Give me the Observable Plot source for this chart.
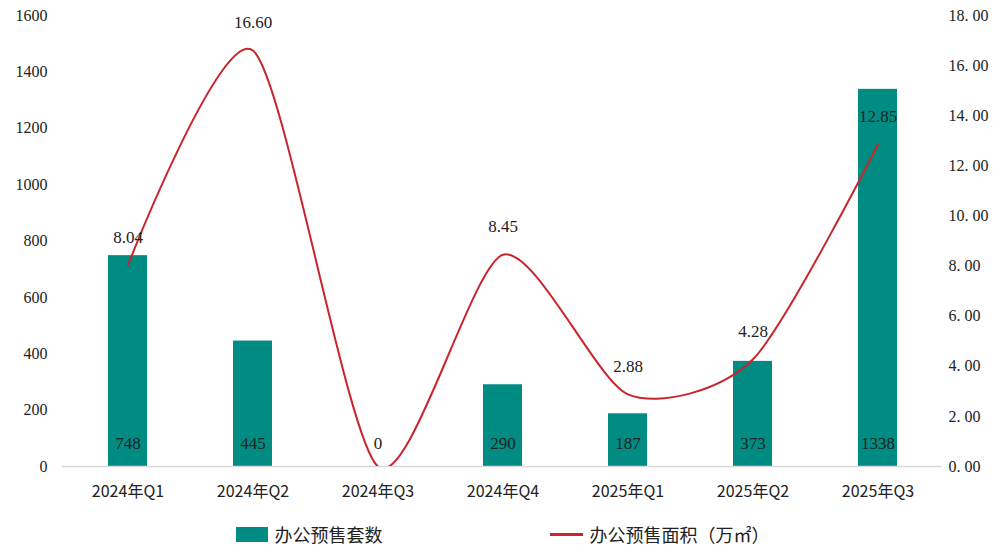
<!DOCTYPE html>
<html>
<head>
<meta charset="utf-8">
<script src="https://cdn.jsdelivr.net/npm/d3@7"></script>
<script src="https://cdn.jsdelivr.net/npm/@observablehq/plot@0.6"></script>
<style>
  html, body { margin: 0; padding: 0; background: #fff; }
  #chart svg { display: block; }
  .legend { display: flex; justify-content: center; align-items: center; gap: 167px; height: 44px;
    font-family: "Noto Sans CJK SC", sans-serif; font-size: 18px; color: #222; }
  .item { display: flex; align-items: center; gap: 7px; }
  .sw-bar { width: 32px; height: 15px; background: #008C82; }
  .sw-line { width: 33px; height: 3px; background: #C9252C; }
</style>
</head>
<body>
<div id="chart"></div>
<div class="legend">
  <div class="item"><span class="sw-bar"></span><span>办公预售套数</span></div>
  <div class="item"><span class="sw-line"></span><span>办公预售面积（万㎡）</span></div>
</div>
<script>
const categories = ["2024年Q1", "2024年Q2", "2024年Q3", "2024年Q4", "2025年Q1", "2025年Q2", "2025年Q3"];
const units = [748, 445, 0, 290, 187, 373, 1338];
const area = [8.04, 16.60, 0, 8.45, 2.88, 4.28, 12.85];
const leftTicks = [0, 200, 400, 600, 800, 1000, 1200, 1400, 1600];
const rightTicks = [0, 2, 4, 6, 8, 10, 12, 14, 16, 18];

const leftMax = 1600, rightMax = 18;
const k = leftMax / rightMax;
const data = categories.map((c, i) => ({cat: c, units: units[i], area: area[i], areaY: area[i] * k}));

const numFont = "'Liberation Serif', 'Times New Roman', serif";
const chart = Plot.plot({
  width: 1005,
  height: 512,
  marginTop: 15,
  marginBottom: 46,
  marginLeft: 62,
  marginRight: 63,
  style: {fontFamily: numFont, fontSize: "16px", color: "#222", background: "#fff"},
  x: {domain: categories, paddingInner: 0.69, paddingOuter: 0.345, label: null},
  y: {domain: [0, leftMax], label: null},
  marks: [
    Plot.barY(data, {x: "cat", y: "units", fill: "#008C82"}),
    Plot.ruleY([0], {stroke: "#d9d9d9", strokeWidth: 1.5}),
    Plot.line(data, {x: "cat", y: "areaY", stroke: "#C9252C", strokeWidth: 2, curve: "cardinal", tension: 0.25, clip: true}),
    Plot.text(data, {x: "cat", y: 0, text: d => String(d.units), dy: -23, fill: "#222",
      fontFamily: numFont, fontSize: 17, letterSpacing: 1}),
    Plot.text(data.filter(d => d.area > 0), {x: "cat", y: "areaY", text: d => d.area.toFixed(2), dy: -28, fill: "#222",
      fontFamily: numFont, fontSize: 17, letterSpacing: 1.5}),
    Plot.axisY(leftTicks, {anchor: "left", tickSize: 0, tickPadding: 15, fontSize: 16, fontFamily: numFont,
      tickFormat: d => String(d), label: null}),
    Plot.axisY(rightTicks.map(v => v * k), {anchor: "right", tickSize: 0, tickPadding: 6, fontSize: 16, fontFamily: numFont,
      tickFormat: d => (d / k).toFixed(2).replace(".", ". "), label: null}),
    Plot.axisX({tickSize: 0, tickPadding: 19, fontSize: 16, fontFamily: "'Noto Sans CJK SC', sans-serif", label: null})
  ]
});
document.getElementById("chart").appendChild(chart);
</script>
</body>
</html>
